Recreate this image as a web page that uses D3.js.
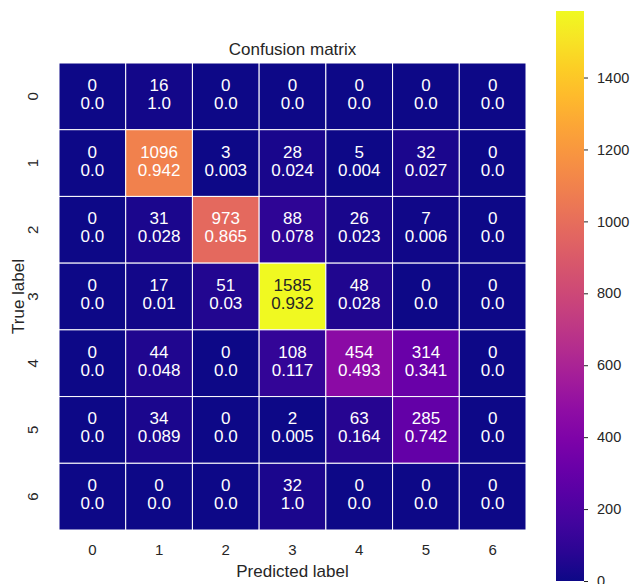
<!DOCTYPE html>
<html><head><meta charset="utf-8">
<script src="https://cdn.jsdelivr.net/npm/d3@7"></script>
<style>body{margin:0;background:#fff}svg{display:block}text{font-family:"Liberation Sans",Arial,sans-serif}</style>
</head><body>
<svg id="c" width="636" height="584"></svg>
<script>
const labels = ["0","1","2","3","4","5","6"];
const counts = [
  [0,16,0,0,0,0,0],
  [0,1096,3,28,5,32,0],
  [0,31,973,88,26,7,0],
  [0,17,51,1585,48,0,0],
  [0,44,0,108,454,314,0],
  [0,34,0,2,63,285,0],
  [0,0,0,32,0,0,0]
];
const fractions = [
  ["0.0","1.0","0.0","0.0","0.0","0.0","0.0"],
  ["0.0","0.942","0.003","0.024","0.004","0.027","0.0"],
  ["0.0","0.028","0.865","0.078","0.023","0.006","0.0"],
  ["0.0","0.01","0.03","0.932","0.028","0.0","0.0"],
  ["0.0","0.048","0.0","0.117","0.493","0.341","0.0"],
  ["0.0","0.089","0.0","0.005","0.164","0.742","0.0"],
  ["0.0","0.0","0.0","1.0","0.0","0.0","0.0"]
];
const cbTicks = [0,200,400,600,800,1000,1200,1400];
const title = "Confusion matrix", xTitle = "Predicted label", yTitle = "True label";

const svg = d3.select("#c");
const L=59, R=526, T=63, B=530;
const x = d3.scaleBand().domain(labels).range([L,R]);
const y = d3.scaleBand().domain(labels).range([T,B]);
const vmax = d3.max(counts.flat());
const color = d3.scaleSequential(d3.interpolatePlasma).domain([0,vmax]);
const textCol = "#262626";
const FF = "Liberation Sans, Arial, sans-serif";

const cells = [];
counts.forEach((row,i)=>row.forEach((v,j)=>cells.push({r:labels[i],c:labels[j],v,f:fractions[i][j]})));

svg.append("g").selectAll("rect").data(cells).join("rect")
  .attr("x",d=>x(d.c)).attr("y",d=>y(d.r))
  .attr("width",x.bandwidth()).attr("height",y.bandwidth())
  .attr("fill",d=>color(d.v)).attr("stroke","#fff").attr("stroke-width",1);

function lum(c){
  const rgb=d3.rgb(c);
  const f=v=>{v/=255;return v<=0.03928?v/12.92:Math.pow((v+0.055)/1.055,2.4);};
  return 0.2126*f(rgb.r)+0.7152*f(rgb.g)+0.0722*f(rgb.b);
}
const ann = svg.append("g").selectAll("text").data(cells).join("text")
  .attr("text-anchor","middle").attr("font-size",17)
  .attr("fill",d=>lum(color(d.v))>0.408?textCol:"#fff");
ann.append("tspan").attr("x",d=>x(d.c)+x.bandwidth()/2).attr("y",d=>y(d.r)+y.bandwidth()/2-5.5).text(d=>d.v);
ann.append("tspan").attr("x",d=>x(d.c)+x.bandwidth()/2).attr("y",d=>y(d.r)+y.bandwidth()/2+12.5).text(d=>d.f);

// axes
const xa = svg.append("g").attr("transform",`translate(0,${B})`).call(d3.axisBottom(x).tickSize(0).tickPadding(14));
xa.select(".domain").remove();
xa.selectAll("text").attr("font-size",15).attr("fill",textCol).attr("font-family",FF);
const ya = svg.append("g").attr("transform",`translate(${L},0)`).call(d3.axisLeft(y).tickSize(0).tickPadding(0));
ya.select(".domain").remove();
ya.selectAll("text").attr("font-size",15).attr("fill",textCol).attr("font-family",FF)
  .attr("text-anchor","middle").attr("dy",null).attr("x",null)
  .attr("transform",`translate(-21,${y.bandwidth()/2}) rotate(-90)`);
ya.selectAll(".tick").attr("transform",d=>`translate(0,${y(d)})`);

svg.append("text").attr("x",(L+R)/2).attr("y",55).attr("text-anchor","middle").attr("font-size",17).attr("fill",textCol).text(title);
svg.append("text").attr("x",(L+R)/2).attr("y",577).attr("text-anchor","middle").attr("font-size",17).attr("fill",textCol).text(xTitle);
svg.append("text").attr("transform",`translate(24,${(T+B)/2}) rotate(-90)`).attr("text-anchor","middle").attr("font-size",17).attr("fill",textCol).text(yTitle);

// colorbar
const cbX=556, cbW=28, cbT=11, cbB=581;
const cy = d3.scaleLinear().domain([0,vmax]).range([cbB,cbT]);
const defs = svg.append("defs");
const grad = defs.append("linearGradient").attr("id","g").attr("x1",0).attr("y1",1).attr("x2",0).attr("y2",0);
d3.range(0,1.0001,0.05).forEach(t=>grad.append("stop").attr("offset",t).attr("stop-color",d3.interpolatePlasma(t)));
svg.append("rect").attr("x",cbX).attr("y",cbT).attr("width",cbW).attr("height",cbB-cbT).attr("fill","url(#g)");
const ca = svg.append("g").attr("transform",`translate(${cbX+cbW},0)`).call(d3.axisRight(cy).tickValues(cbTicks).tickSize(4).tickPadding(9).tickFormat(d3.format("d")));
ca.select(".domain").remove();
ca.selectAll("line").attr("stroke",textCol).attr("stroke-width",1);
ca.selectAll("text").attr("font-size",14.5).attr("fill",textCol).attr("font-family",FF);
</script>
</body></html>
